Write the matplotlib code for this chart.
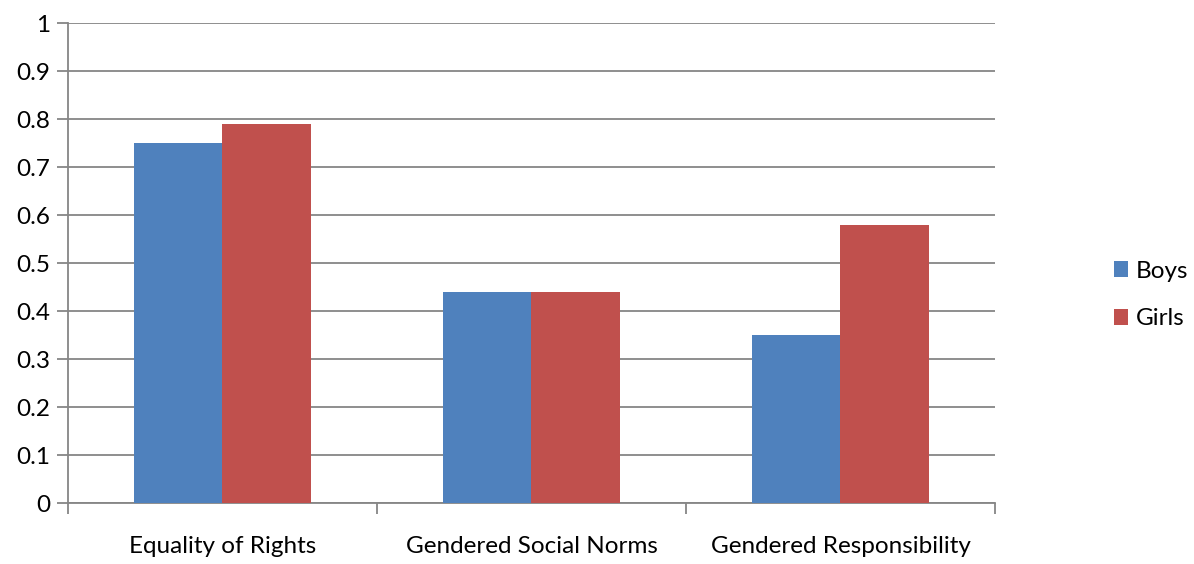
import matplotlib

matplotlib.use("Agg")
import matplotlib.pyplot as plt
import numpy as np

categories = ["Equality of Rights", "Gendered Social Norms", "Gendered Responsibility"]
boys = [0.75, 0.44, 0.35]
girls = [0.79, 0.44, 0.58]
series_names = ["Boys", "Girls"]
yticks = [0, 0.1, 0.2, 0.3, 0.4, 0.5, 0.6, 0.7, 0.8, 0.9, 1]
ytick_labels = ["0", "0.1", "0.2", "0.3", "0.4", "0.5", "0.6", "0.7", "0.8", "0.9", "1"]

plt.rcParams["font.family"] = ["Lato", "DejaVu Sans"]
grey = "#868686"
fs = 17.5

fig = plt.figure(figsize=(11.94, 5.64), dpi=100)
ax = fig.add_axes([68 / 1194, 61 / 564, 927 / 1194, 480 / 564])

x = np.arange(len(categories))
width = 0.288
ax.bar(x - width / 2, boys, width, color="#4F81BD", label=series_names[0], zorder=3)
ax.bar(x + width / 2, girls, width, color="#C0504D", label=series_names[1], zorder=3)

ax.set_xlim(-0.5, len(categories) - 0.5)
ax.set_ylim(0, 1)
ax.set_yticks(yticks)
ax.set_yticklabels(ytick_labels)
ax.yaxis.grid(True, color=grey, linewidth=1.3, zorder=0)
ax.tick_params(axis="y", length=8, width=1.3, color=grey, labelsize=fs, pad=5)

# category labels sit between the boundary ticks
ax.set_xticks(x)
ax.set_xticklabels(categories)
ax.set_xticks(np.arange(len(categories) + 1) - 0.5, minor=True)
ax.tick_params(axis="x", which="major", length=0, labelsize=fs, pad=24)
ax.tick_params(axis="x", which="minor", length=8, width=1.3, color=grey)

for side in ["top", "right"]:
    ax.spines[side].set_visible(False)
for side in ["left", "bottom"]:
    ax.spines[side].set_color(grey)
    ax.spines[side].set_linewidth(1.3)

fig.legend(loc="center left", bbox_to_anchor=(1092 / 1194, (564 - 295) / 564), frameon=False,
           fontsize=fs, handlelength=0.6, handleheight=0.6, handletextpad=0.3,
           labelspacing=1.1)

fig.savefig("out.png", dpi=100)
plt.close(fig)
